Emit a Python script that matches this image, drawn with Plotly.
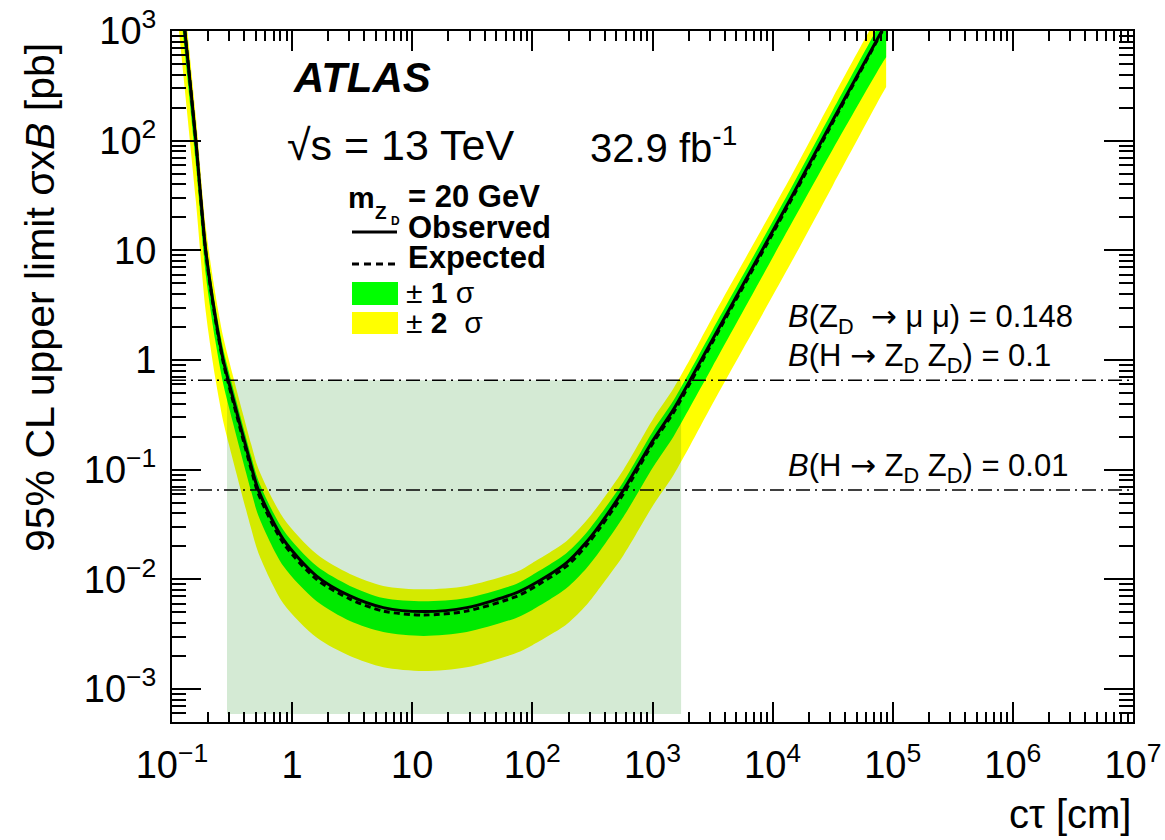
import plotly.graph_objects as go

# ---- limit curves vs proper decay length (m_ZD = 20 GeV) ----
ctau = [0.112, 0.128, 0.158, 0.191, 0.229, 0.267, 0.300, 0.457, 0.524, 0.845, 1.60,
        3.03, 5.74, 12.4, 28.4, 74.1, 100, 193, 282, 366, 573, 1019, 1493,
        2056, 3162, 14450, 31620, 81100, 88100]

observed = [4365, 1000, 100, 10.0, 2.51, 1.0, 0.603, 0.107, 0.065, 0.0231, 0.0107,
            0.00705, 0.00552, 0.00508, 0.00552, 0.00757, 0.00891, 0.0142, 0.0219, 0.0316, 0.065,
            0.188, 0.353, 0.653, 1.54, 31.0, 152.8, 1000, 1175]

expected = [4365, 1000, 97.7, 9.55, 2.40, 0.955, 0.569, 0.100, 0.0603, 0.0214, 0.0100,
            0.00661, 0.00513, 0.00473, 0.00513, 0.00700, 0.00832, 0.0132, 0.0204, 0.0295, 0.0603,
            0.178, 0.331, 0.617, 1.46, 29.5, 146, 977, 1148]

exp_plus1 = [5754, 1318, 129, 12.6, 3.16, 1.26, 0.750, 0.132, 0.0794, 0.0282, 0.0132,
             0.00871, 0.00676, 0.00631, 0.00676, 0.00912, 0.01096, 0.0174, 0.0266, 0.0385, 0.0776,
             0.229, 0.427, 0.794, 1.88, 38.0, 188, 1259, 1479]

exp_minus1 = [2754, 631, 61.7, 6.03, 1.51, 0.603, 0.359, 0.0631, 0.0380, 0.0132, 0.00631,
              0.00417, 0.00331, 0.00305, 0.00331, 0.00447, 0.00525, 0.00832, 0.0126, 0.0182, 0.0372,
              0.107, 0.200, 0.372, 0.871, 17.8, 83.2, 501, 575]

exp_plus2 = [7413, 1698, 166, 16.2, 4.07, 1.62, 0.966, 0.170, 0.102, 0.0363, 0.0170,
             0.0112, 0.00871, 0.00811, 0.00871, 0.0117, 0.0141, 0.0224, 0.0343, 0.0495, 0.100,
             0.295, 0.550, 1.02, 2.45, 49.0, 245, 1622, 1905]

exp_minus2 = [1259, 288, 28.2, 2.75, 0.692, 0.275, 0.164, 0.0288, 0.0174, 0.00603, 0.00295,
              0.00200, 0.00158, 0.00146, 0.00158, 0.00214, 0.00251, 0.00389, 0.00582, 0.00841, 0.0166,
              0.0479, 0.0891, 0.166, 0.398, 7.94, 38.9, 263, 309]

# excluded c*tau range for B(H->ZDZD) = 0.1
excl_ctau = [0.287, 1730]
excl_sigma = [5.9e-4, 0.653]

# sigma(H) x B(H->ZDZD) x B(ZD->mumu) reference levels
ref_ctau = [0.1, 1e7]
ref_levels = [0.653, 0.0653]

x_ticks = [0.1, 1, 10, 100, 1e3, 1e4, 1e5, 1e6, 1e7]
x_ticklabels = ["10<sup>\u22121</sup>", "1", "10", "10<sup>2</sup>", "10<sup>3</sup>",
                "10<sup>4</sup>", "10<sup>5</sup>", "10<sup>6</sup>", "10<sup>7</sup>"]
y_ticks = [1e-3, 1e-2, 1e-1, 1, 10, 100, 1e3]
y_ticklabels = ["10<sup>\u22123</sup>", "10<sup>\u22122</sup>", "10<sup>\u22121</sup>", "1", "10",
                "10<sup>2</sup>", "10<sup>3</sup>"]

FONT = "Liberation Sans"
YELLOW = "#ffff00"
GREEN = "#00ff00"
ARROW = '<span style="font-family:DejaVu Sans">\u2192</span>'

x_minor = [m * 10.0 ** e for e in range(-1, 7) for m in range(2, 10)]
y_minor = [m * 10.0 ** e for e in range(-4, 3) for m in range(2, 10)]

fig = go.Figure()
SPL = dict(shape="spline", smoothing=0.8)

# +-2 sigma band
fig.add_trace(go.Scatter(x=ctau, y=exp_minus2, mode="lines", line=dict(width=0, **SPL),
                         hoverinfo="skip", showlegend=False))
fig.add_trace(go.Scatter(x=ctau, y=exp_plus2, mode="lines", fill="tonexty", fillcolor=YELLOW,
                         line=dict(width=0, **SPL), hoverinfo="skip", showlegend=False))
# +-1 sigma band
fig.add_trace(go.Scatter(x=ctau, y=exp_minus1, mode="lines", line=dict(width=0, **SPL),
                         hoverinfo="skip", showlegend=False))
fig.add_trace(go.Scatter(x=ctau, y=exp_plus1, mode="lines", fill="tonexty", fillcolor=GREEN,
                         line=dict(width=0, **SPL), hoverinfo="skip", showlegend=False))

# excluded region
fig.add_trace(go.Scatter(x=[excl_ctau[0], excl_ctau[1], excl_ctau[1], excl_ctau[0]],
                         y=[excl_sigma[1], excl_sigma[1], excl_sigma[0], excl_sigma[0]],
                         mode="lines", fill="toself", fillcolor="rgba(0,130,0,0.17)",
                         line=dict(width=0), hoverinfo="skip", showlegend=False))

# reference branching-ratio levels
for lvl in ref_levels:
    fig.add_trace(go.Scatter(x=ref_ctau, y=[lvl, lvl], mode="lines",
                             line=dict(color="black", width=1.5, dash="14px,5px,2px,5px"),
                             hoverinfo="skip", showlegend=False))

fig.add_trace(go.Scatter(x=ctau, y=expected, mode="lines",
                         line=dict(color="black", width=3, dash="6px,4px", **SPL),
                         showlegend=False))
fig.add_trace(go.Scatter(x=ctau, y=observed, mode="lines",
                         line=dict(color="black", width=3, **SPL),
                         showlegend=False))

W, H = 1165, 840
L, R, T, B = 172, 32, 31, 118
PW, PH = W - L - R, H - T - B


def px(x):
    return (x - L) / PW


def py(y):
    return (H - B - y) / PH


axis_common = dict(
    type="log", showgrid=False, zeroline=False, automargin=False,
    showline=True, linecolor="black", linewidth=2, mirror="allticks",
    ticks="inside", tickcolor="black", tickwidth=1.5,
    tickmode="array", tickfont=dict(family=FONT, size=38, color="black"),
)

fig.update_xaxes(**axis_common, range=[-1, 7], tickvals=x_ticks, ticktext=x_ticklabels,
                 ticklen=20, ticklabelstandoff=8,
                 minor=dict(tickmode="array", tickvals=x_minor, ticks="inside", ticklen=10,
                            tickcolor="black", tickwidth=1.5, showgrid=False))
fig.update_yaxes(**axis_common, range=[-3.301, 3], tickvals=y_ticks, ticktext=y_ticklabels,
                 ticklen=29, ticklabelstandoff=6,
                 minor=dict(tickmode="array", tickvals=y_minor, ticks="inside", ticklen=14,
                            tickcolor="black", tickwidth=1.5, showgrid=False))

ann = []


def text(x, y, s, size, xanchor="left", yanchor="middle", angle=0):
    ann.append(dict(x=x, y=y, xref="paper", yref="paper", text=s, showarrow=False,
                    xanchor=xanchor, yanchor=yanchor, textangle=angle,
                    font=dict(family=FONT, size=size, color="black")))


text(px(291), py(78), "<b><i>ATLAS</i></b>", 42)
text(px(285), py(145), "\u221as = 13 TeV", 43)
text(px(588), py(145), "32.9 fb<sup>-1</sup>", 40)

# legend block
text(px(346), py(198), "<b>m</b>", 30)
text(px(373), py(212), "<b>Z</b>", 19)
text(px(389), py(221), "<b>D</b>", 12)
text(px(406), py(196), "<b>= 20 GeV</b>", 31)
text(px(406), py(228), "<b>Observed</b>", 31)
text(px(406), py(257), "<b>Expected</b>", 31)
text(px(404), py(292), "\u00b1 <b>1</b> \u03c3", 30)
text(px(404), py(322), "\u00b1 <b>2</b>  \u03c3", 30)

# branching ratio labels
text(px(786), py(318), "<i>B</i>(Z<sub>D</sub>  " + ARROW + " \u03bc \u03bc) = 0.148", 31)
text(px(786), py(357), "<i>B</i>(H " + ARROW + " Z<sub>D</sub> Z<sub>D</sub>) = 0.1", 31)
text(px(786), py(467), "<i>B</i>(H " + ARROW + " Z<sub>D</sub> Z<sub>D</sub>) = 0.01", 31)

# axis titles
text(px(40), py(298), "95% CL upper limit \u03c3x<i>B</i> [pb]", 41, xanchor="center", angle=-90)
text(1.0, py(838), "c\u03c4 [cm]", 40, xanchor="right", yanchor="bottom")

shapes = [
    dict(type="line", xref="paper", yref="paper", x0=px(352), x1=px(397), y0=py(232), y1=py(232),
         line=dict(color="black", width=3)),
    dict(type="line", xref="paper", yref="paper", x0=px(352), x1=px(397), y0=py(264), y1=py(264),
         line=dict(color="black", width=3, dash="7px,5px")),
    dict(type="rect", xref="paper", yref="paper", x0=px(352), x1=px(398), y0=py(305), y1=py(282),
         fillcolor=GREEN, line=dict(width=0)),
    dict(type="rect", xref="paper", yref="paper", x0=px(352), x1=px(398), y0=py(334), y1=py(312),
         fillcolor=YELLOW, line=dict(width=0)),
]

fig.update_layout(
    width=W, height=H,
    margin=dict(l=L, r=R, t=T, b=B, autoexpand=False),
    paper_bgcolor="white", plot_bgcolor="white",
    annotations=ann, shapes=shapes, showlegend=False,
    font=dict(family=FONT, color="black"),
)

fig.write_html("out.html")
